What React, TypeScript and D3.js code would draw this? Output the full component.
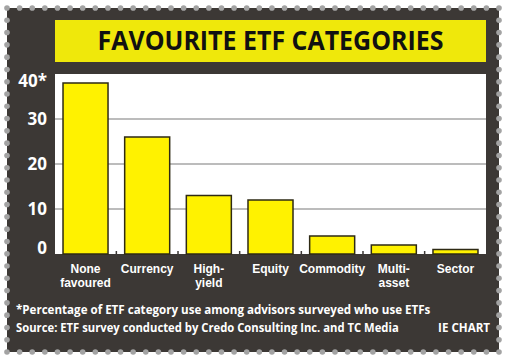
import React, { useLayoutEffect, useRef, useState } from "react";
import * as d3 from "d3";

const categories = ["None favoured", "Currency", "High-yield", "Equity", "Commodity", "Multi-asset", "Sector"];
const labelLines = [["None", "favoured"], ["Currency"], ["High-", "yield"], ["Equity"], ["Commodity"], ["Multi-", "asset"], ["Sector"]];
const shares = [38, 26, 13, 12, 4, 2, 1];
const yTicks = [0, 10, 20, 30, 40];
const yTickLabels = ["0", "10", "20", "30", "40*"];

const title = "FAVOURITE ETF CATEGORIES";
const note = "*Percentage of ETF category use among advisors surveyed who use ETFs";
const source = "Source: ETF survey conducted by Credo Consulting Inc. and TC Media";
const credit = "IE CHART";

const width = 508;
const height = 364;
const font = "'Open Sans', 'DejaVu Sans', sans-serif";
const tight = "'Liberation Sans', Arial, sans-serif";

// text squeezed horizontally to a given width (condensed look)
function FitText({ x, y, w, anchor = "start", size, color = "#fff", family = font, children }) {
  const ref = useRef(null);
  const [sx, setSx] = useState(1);
  useLayoutEffect(() => {
    const n = ref.current.getComputedTextLength();
    if (n > 0) setSx(w / n);
  }, [w, children]);
  return (
    <g transform={`translate(${x},${y}) scale(${sx},1)`}>
      <text ref={ref} textAnchor={anchor} fontFamily={family} fontWeight="bold" fontSize={size} fill={color}>
        {children}
      </text>
    </g>
  );
}

export default function App() {
  // panel + plot box
  const panel = { x0: 7, y0: 8, x1: 499, y1: 352 };
  const plot = { x0: 55, y0: 74, x1: 486, y1: 254 };

  const x = d3
    .scaleBand()
    .domain(categories)
    .range([plot.x0, plot.x1])
    .paddingInner(0.27)
    .paddingOuter(0.13);

  const y = d3.scaleLinear().domain([0, 40]).range([plot.y1, plot.y0]);

  // dotted border
  const dots = [];
  const step = 12.5;
  const nx = Math.round((panel.x1 - panel.x0) / step);
  const ny = Math.round((panel.y1 - panel.y0) / step);
  for (let i = 0; i <= nx; i++) {
    const px = panel.x0 + ((panel.x1 - panel.x0) * i) / nx;
    dots.push([px, panel.y0], [px, panel.y1]);
  }
  for (let j = 1; j < ny; j++) {
    const py = panel.y0 + ((panel.y1 - panel.y0) * j) / ny;
    dots.push([panel.x0, py], [panel.x1, py]);
  }

  const bw = x.bandwidth();

  return (
    <svg width={width} height={height} style={{ position: "absolute", left: 0, top: 0 }}>
      <rect x={0} y={0} width={width} height={height} fill="#ffffff" />
      <rect
        x={panel.x0}
        y={panel.y0}
        width={panel.x1 - panel.x0}
        height={panel.y1 - panel.y0}
        fill="#3c3835"
      />
      {dots.map((d, i) => (
        <circle key={i} cx={d[0]} cy={d[1]} r={2.8} fill="#a3a3a3" />
      ))}

      {/* title box */}
      <rect x={plot.x0} y={20} width={plot.x1 - plot.x0} height={42} fill="#efe80b" />
      <FitText x={(plot.x0 + plot.x1) / 2} y={50} w={346} anchor="middle" size={27} color="#111">
        {title}
      </FitText>

      {/* plot area */}
      <rect x={plot.x0} y={plot.y0} width={plot.x1 - plot.x0} height={plot.y1 - plot.y0} fill="#ffffff" />
      {yTicks.slice(1, -1).map((t) => (
        <line key={t} x1={plot.x0} x2={plot.x1} y1={y(t)} y2={y(t)} stroke="#7a7a7a" strokeWidth={1.2} />
      ))}

      {categories.map((c, i) => (
        <rect
          key={c}
          x={x(c)}
          y={y(shares[i])}
          width={bw}
          height={y(0) - y(shares[i])}
          fill="#fff200"
          stroke="#2e2a14"
          strokeWidth={1.5}
        />
      ))}

      {/* small ticks between bars */}
      {categories.slice(0, -1).map((c) => {
        const mx = (x(c) as number) + bw + (x.step() - bw) / 2;
        return <line key={c} x1={mx} x2={mx} y1={plot.y1 - 3} y2={plot.y1} stroke="#3c3835" strokeWidth={1.5} />;
      })}

      {/* y labels */}
      {yTicks.map((t, i) => (
        <text
          key={t}
          x={47}
          y={Math.min(248, Math.max(81, y(t)))}
          dy="0.36em"
          textAnchor="end"
          fontFamily={font}
          fontWeight="bold"
          fontSize={17}
          fill="#ffffff"
        >
          {yTickLabels[i]}
        </text>
      ))}

      {/* category labels */}
      {categories.map((c, i) =>
        labelLines[i].map((l, k) => (
          <text
            key={c + k}
            x={(x(c) as number) + bw / 2}
            y={273 + k * 13.5}
            textAnchor="middle"
            fontFamily={tight}
            fontWeight="bold"
            fontSize={12}
            fill="#ffffff"
          >
            {l}
          </text>
        ))
      )}

      {/* footnotes */}
      <FitText x={16} y={314} w={415} size={13}>
        {note}
      </FitText>
      <FitText x={16} y={332} w={383} size={13}>
        {source}
      </FitText>
      <FitText x={490} y={332} w={52} anchor="end" size={13}>
        {credit}
      </FitText>
    </svg>
  );
}
